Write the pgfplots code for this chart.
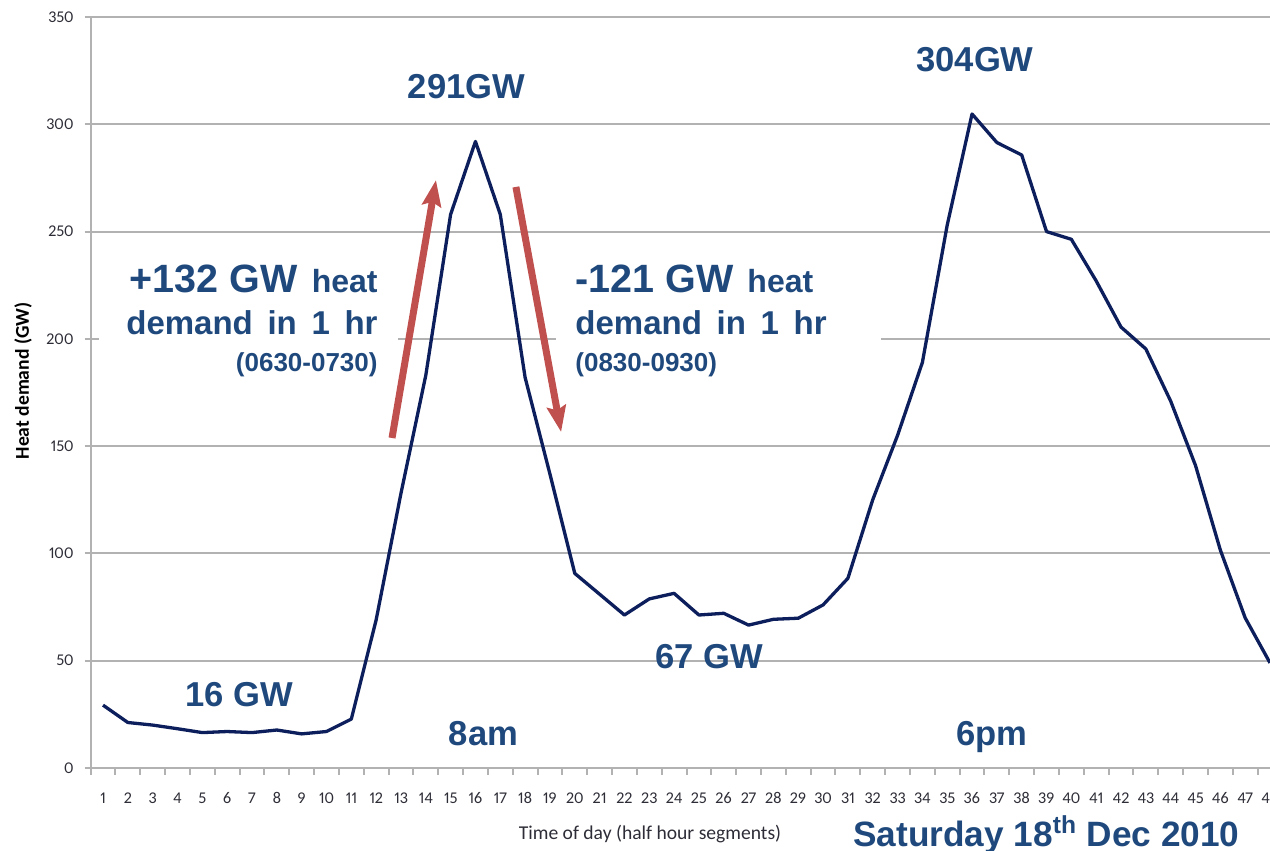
\documentclass[border=0pt]{standalone}
\usepackage{pgfplots}
\pgfplotsset{compat=1.18}
\usepackage{fontspec}
\setmainfont{Liberation Sans}
\newfontfamily\carlito[Numbers={Lining,Proportional}]{Carlito}
\usetikzlibrary{arrows.meta}
\definecolor{textblue}{RGB}{31,73,125}
\definecolor{linenavy}{RGB}{12,30,92}
\definecolor{arrowred}{RGB}{192,80,77}
\definecolor{gridgray}{RGB}{178,178,178}
\definecolor{ticktext}{RGB}{45,45,55}
\begin{document}
\begin{tikzpicture}
\begin{axis}[
  scale only axis,
  width=595.9pt, height=375.5pt,
  xmin=0.5, xmax=48.5, ymin=0, ymax=350,
  axis lines=left,
  axis line style={-, draw=gridgray, line width=1pt},
  clip=false,
  xtick={1,...,48},
  minor xtick={0.5,1.5,...,48.5},
  ytick={0,50,...,350},
  major x tick style={draw=none},
  minor x tick style={draw=gridgray, line width=1pt},
  y tick style={draw=gridgray, line width=1pt},
  tick align=outside,
  major tick length=3pt,
  minor tick length=3.5pt,
  ymajorgrids,
  grid style={draw=gridgray, line width=1pt},
  /pgf/number format/assume math mode=true,
  ticklabel style={font=\carlito\fontsize{8.2}{10}\selectfont, text=ticktext},
  xticklabel style={yshift=-3pt, text height=1.6ex},
  yticklabel style={xshift=-2pt},
]
\addplot[linenavy, line width=1.65pt, line join=round] coordinates {
(1,29.3) (2,21.2) (3,20) (4,18.3) (5,16.5) (6,17) (7,16.5) (8,17.7) (9,15.9) (10,17) (11,22.8) (12,69)
(13,128) (14,183) (15,258) (16,292) (17,258) (18,182) (19,137) (20,90.7) (21,81) (22,71.3) (23,78.8) (24,81.4)
(25,71.3) (26,72.1) (27,66.6) (28,69.3) (29,69.8) (30,76) (31,88.4) (32,125) (33,155) (34,189) (35,253) (36,304.8)
(37,291.5) (38,285.7) (39,250) (40,246.4) (41,227) (42,205.5) (43,195.3) (44,171) (45,141) (46,101.6) (47,70) (48,49)
};
% white boxes hiding the 200 gridline
\fill[white] (axis cs:0.84,178.5) rectangle (axis cs:12.88,236.8);
\fill[white] (axis cs:19.24,178.5) rectangle (axis cs:32.33,236.8);
% arrows
\draw[arrowred, line width=3.5pt, -{Stealth[width=9.5pt,length=13pt,inset=2pt]}] (axis cs:12.64,153.8) -- (axis cs:14.41,274);
\draw[arrowred, line width=3.5pt, -{Stealth[width=9.5pt,length=13pt,inset=2pt]}] (axis cs:17.63,270.8) -- (axis cs:19.45,156.6);
% annotations
\begin{scope}[every node/.style={text=textblue, font=\bfseries, inner sep=0pt}]
\node[anchor=base east] at (axis cs:12.075,221.8) {{\fontsize{19.75}{24}\selectfont +132 GW}\hspace{7pt}{\fontsize{16}{19}\selectfont heat}};
\node[anchor=base east] at (axis cs:12.075,201.8) {\fontsize{16.5}{20}\selectfont demand\, in\, 1\, hr};
\node[anchor=base east] at (axis cs:12.075,184.6) {\fontsize{13}{16}\selectfont (0630-0730)};
\node[anchor=base west] at (axis cs:20.01,221.8) {{\fontsize{19.75}{24}\selectfont -121 GW}\hspace{7pt}{\fontsize{16}{19}\selectfont heat}};
\node[anchor=base west] at (axis cs:20.01,201.8) {\fontsize{16.5}{20}\selectfont demand\, in\, 1\, hr};
\node[anchor=base west] at (axis cs:20.01,184.6) {\fontsize{13}{16}\selectfont (0830-0930)};
\node[anchor=base] at (axis cs:15.64,312.2) {\fontsize{17.3}{20}\selectfont 291GW};
\node[anchor=base] at (axis cs:36.12,324.5) {\fontsize{17.3}{20}\selectfont 304GW};
\node[anchor=base] at (axis cs:6.48,28.6) {\fontsize{17.3}{20}\selectfont 16 GW};
\node[anchor=base] at (axis cs:25.41,46.5) {\fontsize{17.3}{20}\selectfont 67 GW};
\node[anchor=base] at (axis cs:16.32,10.7) {\fontsize{17.3}{20}\selectfont 8am};
\node[anchor=base] at (axis cs:36.8,10.7) {\fontsize{17.3}{20}\selectfont 6pm};
\node[anchor=base west] at (axis cs:31.2,-36.6) {\fontsize{17.6}{22}\selectfont Saturday 18\textsuperscript{th} Dec 2010};
\end{scope}
\node[anchor=base, inner sep=0pt, text=ticktext, font=\carlito\fontsize{9.8}{12}\selectfont] at (axis cs:23.03,-33.1) {Time of day (half hour segments)};
\node[rotate=90, inner sep=0pt, text=black, font=\carlito\bfseries\fontsize{9.8}{12}\selectfont] at (axis cs:-2.22,180.4) {Heat demand (GW)};
\end{axis}
\pgfresetboundingbox
\path[use as bounding box] (-45.3pt,-41.5pt) rectangle (589.7pt,384pt);
\end{tikzpicture}
\end{document}
